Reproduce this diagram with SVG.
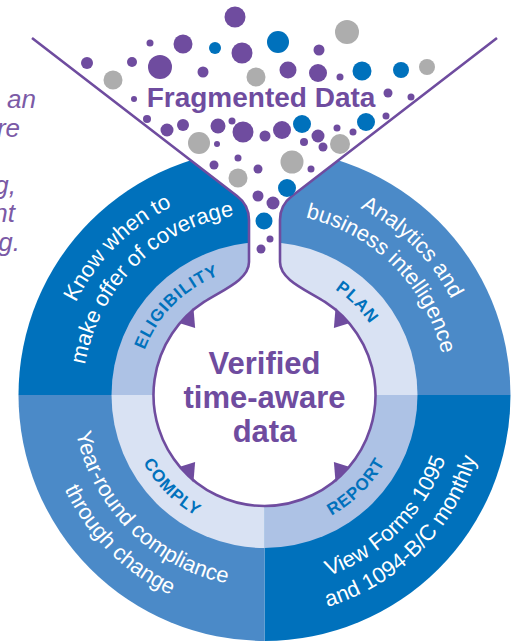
<svg xmlns="http://www.w3.org/2000/svg" width="515" height="641" viewBox="0 0 515 641">
<style>
.dk{fill:#0071BC}.md{fill:#4B8AC8}.lm{fill:#ADC2E5}.lv{fill:#D9E2F3}
.p{fill:#6F4C9F}.g{fill:#ADADAD}.b{fill:#0071BC}
.ot{font-family:"Liberation Sans",Arial,sans-serif;font-size:22px;fill:#fff}
.lb{font-family:"Liberation Sans",Arial,sans-serif;font-size:17px;font-weight:bold;fill:#0071BC;letter-spacing:1px}
.ct{font-family:"Liberation Sans",Arial,sans-serif;font-size:31px;font-weight:bold;fill:#6F4C9F;text-anchor:middle}
.it{font-family:"Liberation Sans",Arial,sans-serif;font-size:26px;font-style:italic;fill:#7B5AA6;text-anchor:end}
</style>
<defs>
<path id="a1" d="M54.5,395 A210,210 0 0 1 264.5,185"/>
<path id="a2" d="M82.5,395 A182,182 0 0 1 264.5,213"/>
<path id="a3" d="M264.5,185 A210,210 0 0 1 474.5,395"/>
<path id="a4" d="M264.5,213 A182,182 0 0 1 446.5,395"/>
<path id="a5" d="M72.5,395 A192,192 0 0 0 264.5,587"/>
<path id="a6" d="M43.5,395 A221,221 0 0 0 264.5,616"/>
<path id="a7" d="M264.5,587 A192,192 0 0 0 456.5,395"/>
<path id="a8" d="M264.5,616 A221,221 0 0 0 485.5,395"/>
<path id="m1" d="M136.5,395 A128,128 0 0 1 264.5,267"/>
<path id="m2" d="M264.5,268 A127,127 0 0 1 391.5,395"/>
<path id="m3" d="M125.5,395 A139,139 0 0 0 264.5,534"/>
<path id="m4" d="M264.5,533 A138,138 0 0 0 402.5,395"/>
<polygon id="ah" points="11,0 -8,-8 -8,8"/>
</defs>

<g id="left-text">
<text class="it" x="36" y="108">o an</text>
<text class="it" x="20" y="137">re</text>
<text class="it" x="16" y="194">g,</text>
<text class="it" x="15" y="222">nt</text>
<text class="it" x="20" y="251">g.</text>
</g>

<g id="outer-ring">
<path class="dk" d="M264.5,395 L18.5,395 A246,246 0 0 1 264.5,149 Z"/>
<path class="md" d="M264.5,395 L264.5,149 A246,246 0 0 1 510.5,395 Z"/>
<path class="dk" d="M264.5,395 L510.5,395 A246,246 0 0 1 264.5,641 Z"/>
<path class="md" d="M264.5,395 L264.5,641 A246,246 0 0 1 18.5,395 Z"/>
</g>
<g id="middle-ring">
<path class="lm" d="M264.5,395 L111.5,395 A153,153 0 0 1 264.5,242 Z"/>
<path class="lv" d="M264.5,395 L264.5,242 A153,153 0 0 1 417.5,395 Z"/>
<path class="lm" d="M264.5,395 L417.5,395 A153,153 0 0 1 264.5,548 Z"/>
<path class="lv" d="M264.5,395 L264.5,548 A153,153 0 0 1 111.5,395 Z"/>
</g>

<g id="funnel">
<path d="M32,38 L237,196 Q249,205 249,220 L249,262 C249,280 222.5,289.9 204.05,301.9 A111,111 0 1 0 324.95,301.9 C306.5,289.9 280,280 280,262 L280,220 Q280,205 292,196 L497,38" fill="#fff" stroke="#6F4C9F" stroke-width="2.6" stroke-linejoin="round"/>
</g>

<g id="connectors" fill="#6F4C9F">
<use href="#ah" transform="translate(190,318) rotate(-72)"/>
<use href="#ah" transform="translate(339,318) rotate(-108)"/>
<use href="#ah" transform="translate(190,472) rotate(72)"/>
<use href="#ah" transform="translate(339,472) rotate(108)"/>
</g>

<g id="dots">
<circle class="p" cx="235" cy="17" r="10.5"/>
<circle class="g" cx="347" cy="32" r="12"/>
<circle class="p" cx="150" cy="43" r="3.5"/>
<circle class="p" cx="183" cy="44" r="9.5"/>
<circle class="b" cx="215" cy="48" r="6"/>
<circle class="p" cx="242" cy="53" r="10.5"/>
<circle class="b" cx="278" cy="42" r="11"/>
<circle class="p" cx="319" cy="50" r="5.5"/>
<circle class="p" cx="87" cy="63" r="6"/>
<circle class="p" cx="132" cy="62" r="5"/>
<circle class="p" cx="160" cy="67" r="12"/>
<circle class="g" cx="113" cy="80" r="9.5"/>
<circle class="p" cx="203" cy="72" r="5.5"/>
<circle class="g" cx="256" cy="77" r="9.5"/>
<circle class="p" cx="288" cy="70" r="8.5"/>
<circle class="p" cx="318" cy="73" r="9"/>
<circle class="p" cx="340" cy="77" r="3.5"/>
<circle class="b" cx="362" cy="71" r="9.5"/>
<circle class="b" cx="401" cy="70" r="8"/>
<circle class="g" cx="427" cy="67" r="8"/>
<circle class="p" cx="134" cy="99" r="3"/>
<circle class="p" cx="388" cy="93" r="4.5"/>
<circle class="p" cx="411" cy="97" r="3.5"/>
<circle class="p" cx="147" cy="119" r="4"/>
<circle class="p" cx="167" cy="130" r="6.5"/>
<circle class="p" cx="183" cy="125" r="6"/>
<circle class="g" cx="199" cy="143" r="11"/>
<circle class="p" cx="218" cy="126" r="7.5"/>
<circle class="p" cx="232" cy="121" r="3.5"/>
<circle class="p" cx="243" cy="132" r="10.5"/>
<circle class="p" cx="217" cy="144" r="3"/>
<circle class="p" cx="265" cy="136" r="5.5"/>
<circle class="p" cx="282" cy="130" r="9"/>
<circle class="b" cx="302" cy="124" r="9"/>
<circle class="p" cx="318" cy="136" r="6.5"/>
<circle class="p" cx="337" cy="128" r="3.5"/>
<circle class="p" cx="304" cy="142" r="4"/>
<circle class="p" cx="323" cy="147" r="4.5"/>
<circle class="g" cx="340" cy="144" r="10"/>
<circle class="p" cx="353" cy="132" r="3.5"/>
<circle class="b" cx="366" cy="122" r="9"/>
<circle class="p" cx="386" cy="116" r="3.5"/>
<circle class="p" cx="214" cy="165" r="4.5"/>
<circle class="p" cx="238" cy="158" r="3.5"/>
<circle class="g" cx="292" cy="162" r="11.5"/>
<circle class="p" cx="311" cy="169" r="3.5"/>
<circle class="g" cx="238" cy="178" r="9.5"/>
<circle class="p" cx="258" cy="169" r="4.5"/>
<circle class="b" cx="287" cy="188" r="9"/>
<circle class="p" cx="258" cy="196" r="5.5"/>
<circle class="p" cx="273" cy="203" r="6.5"/>
<circle class="b" cx="264" cy="221" r="8.5"/>
<circle class="p" cx="270" cy="239" r="3.5"/>
<circle class="p" cx="261" cy="249" r="4.5"/>
</g>

<g id="title">
<text x="261" y="107" text-anchor="middle" font-family="Liberation Sans, Arial, sans-serif" font-size="28" font-weight="bold" fill="#6F4C9F">Fragmented Data</text>
</g>

<g id="center">
<text class="ct" x="264.5" y="374">Verified</text>
<text class="ct" x="264.5" y="408">time-aware</text>
<text class="ct" x="264.5" y="442">data</text>
</g>

<g id="eligibility">
<text class="ot"><textPath href="#a1" startOffset="50%" text-anchor="middle">Know when to</textPath></text>
<text class="ot"><textPath href="#a2" startOffset="50%" text-anchor="middle">make offer of coverage</textPath></text>
<text class="lb"><textPath href="#m1" startOffset="50%" text-anchor="middle">ELIGIBILITY</textPath></text>
</g>
<g id="plan">
<text class="ot"><textPath href="#a3" startOffset="50%" text-anchor="middle">Analytics and</textPath></text>
<text class="ot"><textPath href="#a4" startOffset="50%" text-anchor="middle">business intelligence</textPath></text>
<text class="lb"><textPath href="#m2" startOffset="50%" text-anchor="middle">PLAN</textPath></text>
</g>
<g id="comply">
<text class="ot"><textPath href="#a5" startOffset="50%" text-anchor="middle">Year-round compliance</textPath></text>
<text class="ot"><textPath href="#a6" startOffset="50%" text-anchor="middle">through change</textPath></text>
<text class="lb"><textPath href="#m3" startOffset="50%" text-anchor="middle">COMPLY</textPath></text>
</g>
<g id="report">
<text class="ot"><textPath href="#a7" startOffset="50%" text-anchor="middle">View Forms 1095</textPath></text>
<text class="ot"><textPath href="#a8" startOffset="50%" text-anchor="middle">and 1094-B/C monthly</textPath></text>
<text class="lb"><textPath href="#m4" startOffset="50%" text-anchor="middle">REPORT</textPath></text>
</g>
</svg>
